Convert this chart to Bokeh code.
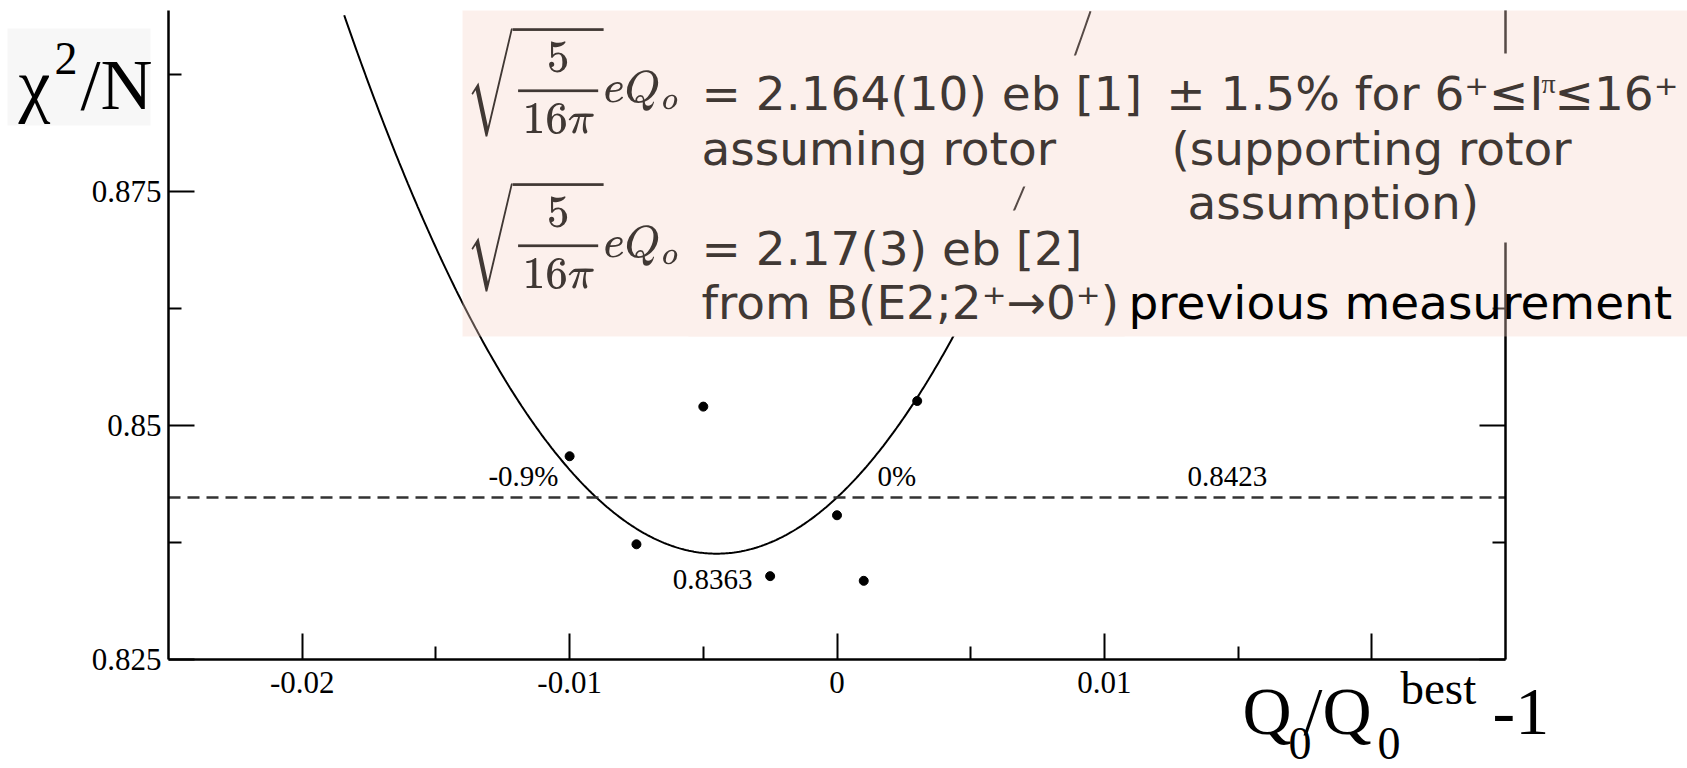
import numpy as np
from bokeh.plotting import figure
from bokeh.models import Label, BoxAnnotation, LinearAxis, FixedTicker, TeX
from bokeh.embed import file_html
from bokeh.resources import INLINE

# Reduced chi-square of the fit versus the relative shift of Q0 from its best value
q_shift = [-0.01, -0.0075, -0.005, -0.0025, 0.0, 0.001, 0.003]
chi2_n = [0.8467, 0.8373, 0.8520, 0.8339, 0.8404, 0.8334, 0.8526]

# Parabolic fit: minimum value and the limit level with its two crossings
chi2_min = 0.8363
chi2_limit = 0.8423
limit_low = -0.009   # -0.9 %
limit_high = 0.0     # 0 %

x_ticks = [-0.02, -0.01, 0.0, 0.01, 0.02]
x_tick_labels = ["-0.02", "-0.01", "0", "0.01", ""]
x_minor = [-0.015, -0.005, 0.005, 0.015]
y_ticks = [0.825, 0.85, 0.875, 0.9]
y_tick_labels = ["0.825", "0.85", "0.875", ""]
y_minor = [0.8375, 0.8625, 0.8875]

# Canvas geometry (pixels): the axes box spans FL..FR and FT..FB
W, H = 1687, 768
FL, FR, FT, FB = 168, 1505, 10, 659
X0, X1 = -0.025, 0.025
Y0 = 0.825
PX_PER_Y = 9366.0
Y1 = Y0 + (FB - FT) / PX_PER_Y
PX_PER_X = (FR - FL) / (X1 - X0)


def cx(px):
    return X0 + (px - FL) / PX_PER_X


def cy(py):
    return Y0 + (FB - py) / PX_PER_Y


SERIF = "Liberation Serif"
SANS = "DejaVu Sans"
TXT = "#403834"

# the frame covers the whole canvas; axes are pinned to the data box
p = figure(width=W, height=H, x_range=(cx(0), cx(W)), y_range=(cy(H), cy(0)),
           output_backend="svg", toolbar_location=None,
           x_axis_location=None, y_axis_location=None,
           min_border=0, min_border_left=0, min_border_right=0,
           min_border_top=0, min_border_bottom=0)
p.outline_line_color = None
p.grid.visible = False
p.background_fill_color = "white"
p.border_fill_color = "white"

xax = LinearAxis(fixed_location=Y0, bounds=(X0, X1),
                 ticker=FixedTicker(ticks=x_ticks, minor_ticks=x_minor),
                 major_label_overrides=dict(zip(x_ticks, x_tick_labels)),
                 major_label_standoff=12)
yax = LinearAxis(fixed_location=X0, bounds=(Y0, Y1),
                 ticker=FixedTicker(ticks=y_ticks, minor_ticks=y_minor),
                 major_label_overrides=dict(zip(y_ticks, y_tick_labels)),
                 major_label_standoff=7)
raxis = LinearAxis(fixed_location=X1, bounds=(Y0, Y1),
                   ticker=FixedTicker(ticks=y_ticks, minor_ticks=y_minor),
                   major_label_overrides={t: "" for t in y_ticks})
p.add_layout(xax, "below")
p.add_layout(yax, "left")
p.add_layout(raxis, "right")

for ax in (xax, yax, raxis):
    ax.axis_line_color = "black"
    ax.axis_line_width = 2.5
    ax.major_tick_in = 26
    ax.major_tick_out = 0
    ax.minor_tick_in = 13
    ax.minor_tick_out = 0
    ax.major_tick_line_color = "black"
    ax.minor_tick_line_color = "black"
    ax.major_tick_line_width = 2
    ax.minor_tick_line_width = 2
    ax.major_label_text_color = "black"
    ax.major_label_text_font = SERIF
    ax.major_label_text_font_size = "31px"

# fitted parabola through the minimum and the two crossings of the limit level
center = 0.5 * (limit_low + limit_high)
curv = (chi2_limit - chi2_min) / (limit_high - center) ** 2
xs = np.linspace(X0, X1, 800)
ys = chi2_min + curv * (xs - center) ** 2
ys[ys > Y1] = np.nan
p.line(xs, ys, line_color="black", line_width=2)
p.scatter(q_shift, chi2_n, size=9, color="black")

p.segment(x0=[X0], y0=[chi2_limit], x1=[X1], y1=[chi2_limit],
          line_color="#333333", line_width=2.5, line_dash="12 7")


def label(px, py, text, size, font=SERIF, color="black", align="left"):
    # py is the baseline position in canvas pixels
    shift = 0.25 * size + 3
    p.add_layout(Label(x=cx(px), y=cy(py - shift), text=text, text_font=font,
                       text_font_size=f"{size}px", text_color=color,
                       text_align=align, text_baseline="alphabetic"))


def box(left, right, top, bottom, color, alpha=1.0):
    p.add_layout(BoxAnnotation(left=cx(left), right=cx(right), top=cy(top), bottom=cy(bottom),
                               fill_color=color, fill_alpha=alpha, line_color=None))


# values written on the curve
label(558, 486, "-0.9%", 29, align="right")
label(877, 486, "0%", 29)
label(1187, 486, f"{chi2_limit:.4f}", 29)
label(752, 589, f"{chi2_min:.4f}", 29, align="right")

# y axis title
box(7, 150, 28, 125, "#f7f7f7")
label(18, 105, "\u03c7", 72)
label(54, 72, "2", 46)
label(80, 105, "/N", 72)

# x axis title
label(1242, 730, "Q", 68)
label(1288, 757, "0", 46)
label(1303, 730, "/Q", 68)
label(1377, 757, "0", 46)
label(1400, 702, "best", 47)
label(1492, 731, "-1", 68)

# annotation panel
box(462, W + 2, 10, 336, "#f6d4c9", 0.35)
box(688, 1152, 55, 186, "#fcf0ec")
box(1163, W + 2, 53, 242, "#fcf0ec")
box(688, 1124, 210, 336, "#fcf0ec")

formula = r"\sqrt{\frac{5}{16\pi}}eQ_o"
for top in (25, 180):
    p.add_layout(Label(x=cx(466), y=cy(top), text=TeX(text=formula), text_font_size="36px",
                       text_color=TXT, text_align="left", text_baseline="top"))

label(701, 108, "= 2.164(10) eb [1]", 47, SANS, TXT)
label(701, 163, "assuming rotor", 47, SANS, TXT)
label(1528, 108, "\u00b1 1.5% for 6\u207a\u2264", 47, SANS, TXT, align="right")
label(1529, 108, "I", 47, SANS, TXT)
label(1541, 93, "\u03c0", 28, SERIF, TXT)
label(1678, 108, "\u226416\u207a", 47, SANS, TXT, align="right")
label(1171, 163, "(supporting rotor", 47, SANS, TXT)
label(1187, 217, "assumption)", 47, SANS, TXT)
label(701, 263, "= 2.17(3) eb [2]", 47, SANS, TXT)
label(701, 317, "from B(E2;2\u207a\u21920\u207a)", 47, SANS, TXT)
label(1128, 317, "previous measurement", 47, SANS, "black")

open("out.html", "w").write(file_html(p, INLINE))
